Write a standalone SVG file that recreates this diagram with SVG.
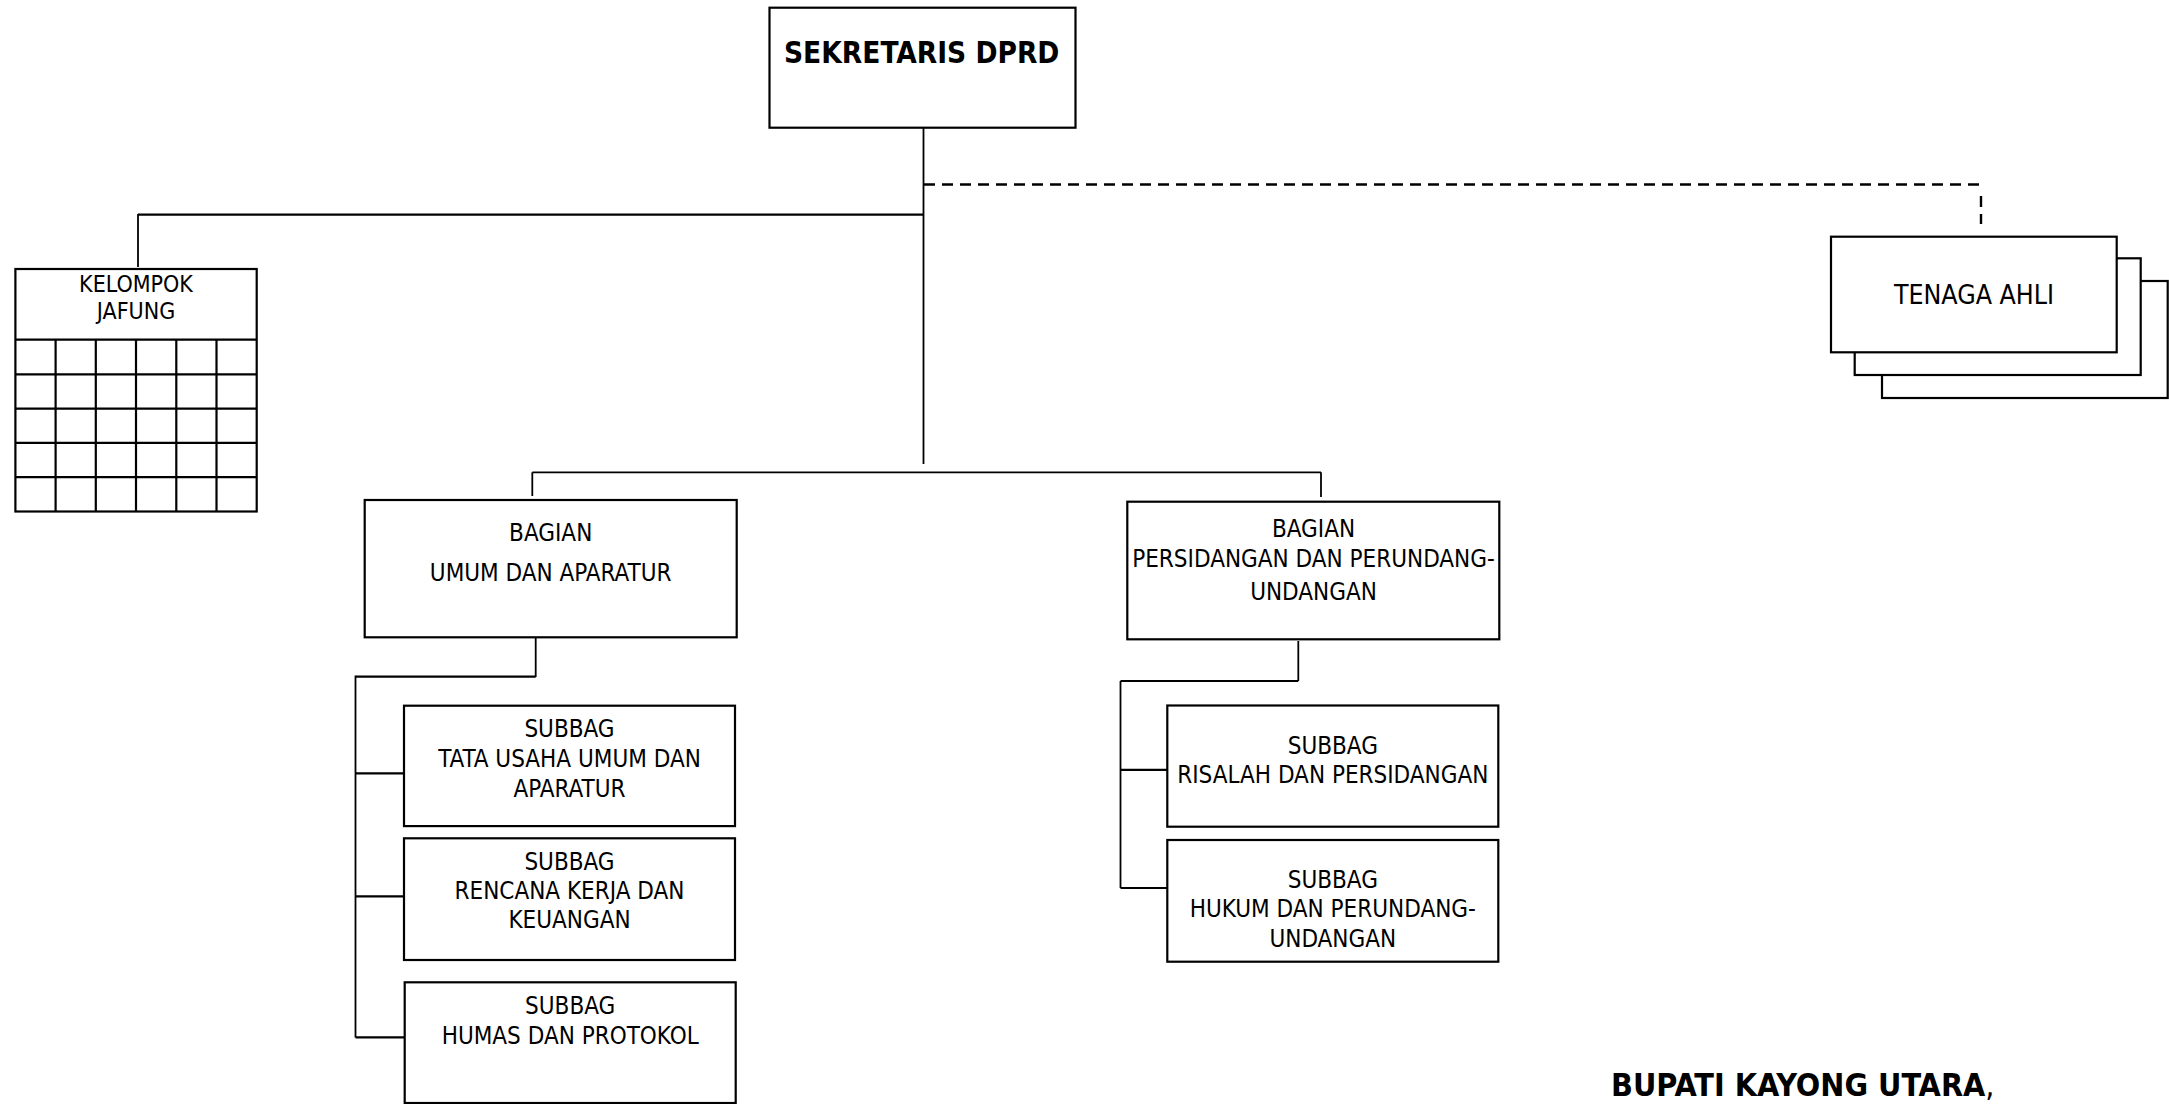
<svg xmlns="http://www.w3.org/2000/svg" width="2169" height="1104" viewBox="0 0 2169 1104">
<style>
.box{fill:#fff;stroke:#000;stroke-width:2.2}
.ln{fill:none;stroke:#000;stroke-width:1.8}
.dash{fill:none;stroke:#000;stroke-width:2.4;stroke-dasharray:11 7}
.t{font-family:"DejaVu Sans Condensed","DejaVu Sans",sans-serif;font-size:24px;text-anchor:middle;fill:#000}
.b{font-weight:bold}
</style>
<rect width="2169" height="1104" fill="#fff"/>
<g id="connectors">
  <line class="ln" x1="923.5" y1="128" x2="923.5" y2="464"/>
  <line class="ln" x1="138" y1="214.6" x2="923.5" y2="214.6" style="stroke-width:2.2"/>
  <line class="ln" x1="138" y1="214" x2="138" y2="267"/>
  <line class="dash" x1="924" y1="184.5" x2="1980" y2="184.5"/>
  <line class="dash" x1="1981" y1="196" x2="1981" y2="224"/>
  <line class="ln" x1="532.3" y1="472.3" x2="1321" y2="472.3"/>
  <line class="ln" x1="532.3" y1="472.3" x2="532.3" y2="496"/>
  <line class="ln" x1="1321" y1="472.3" x2="1321" y2="497"/>
  <line class="ln" x1="535.7" y1="637" x2="535.7" y2="677"/>
  <line class="ln" x1="356" y1="676.7" x2="535.7" y2="676.7" style="stroke-width:2.2"/>
  <line class="ln" x1="355.5" y1="675.5" x2="355.5" y2="1037.5"/>
  <line class="ln" x1="355.5" y1="773.3" x2="404" y2="773.3" style="stroke-width:2.2"/>
  <line class="ln" x1="355.5" y1="896.3" x2="404" y2="896.3" style="stroke-width:2.2"/>
  <line class="ln" x1="355.5" y1="1037.3" x2="404.7" y2="1037.3" style="stroke-width:2.2"/>
  <line class="ln" x1="1298.3" y1="641" x2="1298.3" y2="681"/>
  <line class="ln" x1="1120.5" y1="681" x2="1298.3" y2="681" style="stroke-width:2.2"/>
  <line class="ln" x1="1120.5" y1="681" x2="1120.5" y2="888"/>
  <line class="ln" x1="1120.5" y1="769.8" x2="1167.3" y2="769.8" style="stroke-width:2.2"/>
  <line class="ln" x1="1120.5" y1="888" x2="1167.3" y2="888" style="stroke-width:2.2"/>
</g>
<g id="sekretaris">
  <rect class="box" x="769.5" y="7.7" width="306" height="120"/>
  <text class="t b" x="921.7" y="63.3" style="font-size:29.5px">SEKRETARIS DPRD</text>
</g>
<g id="kelompok-jafung">
  <rect class="box" x="15.4" y="269" width="241.3" height="242.5"/>
  <g class="ln" style="stroke-width:2.2">
    <line x1="15.4" y1="339.6" x2="256.7" y2="339.6"/>
    <line x1="15.4" y1="374.3" x2="256.7" y2="374.3"/>
    <line x1="15.4" y1="408.6" x2="256.7" y2="408.6"/>
    <line x1="15.4" y1="442.9" x2="256.7" y2="442.9"/>
    <line x1="15.4" y1="477.2" x2="256.7" y2="477.2"/>
    <line x1="55.6" y1="339.6" x2="55.6" y2="511.5"/>
    <line x1="95.8" y1="339.6" x2="95.8" y2="511.5"/>
    <line x1="136" y1="339.6" x2="136" y2="511.5"/>
    <line x1="176.3" y1="339.6" x2="176.3" y2="511.5"/>
    <line x1="216.5" y1="339.6" x2="216.5" y2="511.5"/>
  </g>
  <text class="t" x="136" y="292" style="font-size:23px">KELOMPOK</text>
  <text class="t" x="136" y="319" style="font-size:23px">JAFUNG</text>
</g>
<g id="tenaga-ahli">
  <rect class="box" x="1882" y="281" width="285.7" height="117"/>
  <rect class="box" x="1854.7" y="258.3" width="286" height="116.7"/>
  <rect class="box" x="1831" y="236.7" width="285.7" height="115.6"/>
  <text class="t" x="1974" y="304" style="font-size:26.5px">TENAGA AHLI</text>
</g>
<g id="bagian-umum">
  <rect class="box" x="364.7" y="500" width="372" height="137.3"/>
  <text class="t" x="550.7" y="540.7">BAGIAN</text>
  <text class="t" x="550.7" y="580.7">UMUM DAN APARATUR</text>
</g>
<g id="bagian-persidangan">
  <rect class="box" x="1127.3" y="501.7" width="372" height="137.6"/>
  <text class="t" x="1313.5" y="536.7">BAGIAN</text>
  <text class="t" x="1313.5" y="566.7">PERSIDANGAN DAN PERUNDANG-</text>
  <text class="t" x="1313.5" y="600">UNDANGAN</text>
</g>
<g id="subbag-tata-usaha">
  <rect class="box" x="404" y="705.7" width="331" height="120.4"/>
  <text class="t" x="569.5" y="736.7">SUBBAG</text>
  <text class="t" x="569.5" y="766.7">TATA USAHA UMUM DAN</text>
  <text class="t" x="569.5" y="796.7">APARATUR</text>
</g>
<g id="subbag-rencana">
  <rect class="box" x="404" y="838.3" width="331" height="121.7"/>
  <text class="t" x="569.5" y="869.7">SUBBAG</text>
  <text class="t" x="569.5" y="899">RENCANA KERJA DAN</text>
  <text class="t" x="569.5" y="928.3">KEUANGAN</text>
</g>
<g id="subbag-humas">
  <rect class="box" x="404.7" y="982.3" width="331" height="120.7"/>
  <text class="t" x="570.2" y="1014">SUBBAG</text>
  <text class="t" x="570.2" y="1044">HUMAS DAN PROTOKOL</text>
</g>
<g id="subbag-risalah">
  <rect class="box" x="1167.3" y="705.5" width="331" height="121.2"/>
  <text class="t" x="1332.8" y="754">SUBBAG</text>
  <text class="t" x="1332.8" y="783">RISALAH DAN PERSIDANGAN</text>
</g>
<g id="subbag-hukum">
  <rect class="box" x="1167.3" y="840" width="331" height="121.7"/>
  <text class="t" x="1332.8" y="888">SUBBAG</text>
  <text class="t" x="1332.8" y="917.3">HUKUM DAN PERUNDANG-</text>
  <text class="t" x="1332.8" y="946.7">UNDANGAN</text>
</g>
<g id="bupati">
  <text class="t b" x="1611" y="1096" style="font-size:32px;text-anchor:start">BUPATI KAYONG UTARA<tspan style="font-weight:normal">,</tspan></text>
</g>
</svg>
